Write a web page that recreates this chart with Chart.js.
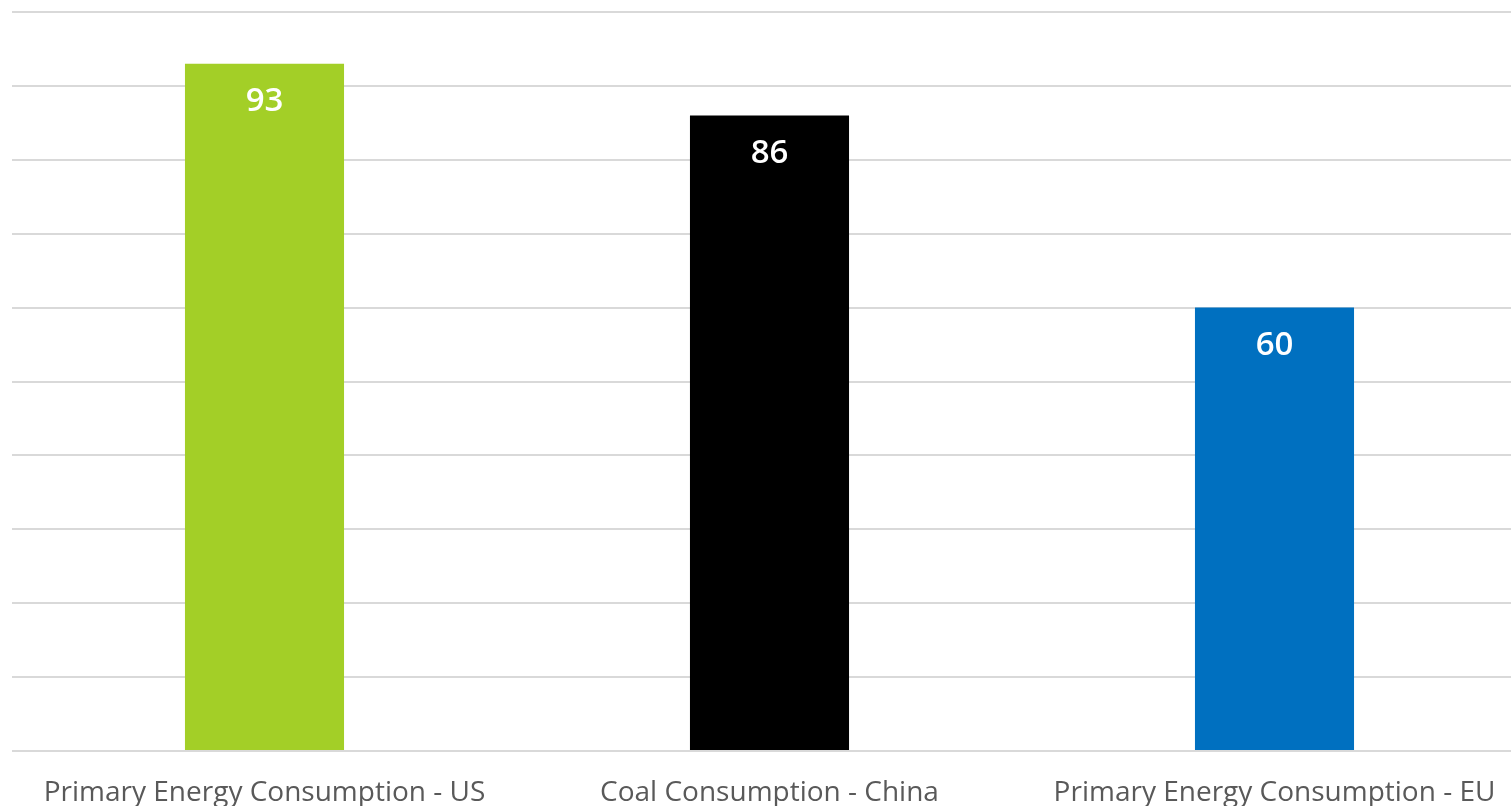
<!DOCTYPE html>
<html>
<head>
<meta charset="utf-8">
<script src="https://cdn.jsdelivr.net/npm/chart.js@4/dist/chart.umd.min.js"></script>
<style>
html,body{margin:0;padding:0;background:#fff;overflow:hidden;}
#wrap{width:1527px;height:806px;}
</style>
</head>
<body>
<div id="wrap"><canvas id="c" width="1527" height="806"></canvas></div>
<script>
const categories = ["Primary Energy Consumption - US", "Coal Consumption - China", "Primary Energy Consumption - EU"];
const values = [93, 86, 60];
const barColors = ["#a3cf27", "#000000", "#0070c0"];
const yMin = 0, yMax = 100, yStep = 10;

const valueLabels = {
  id: 'valueLabels',
  afterDatasetsDraw(chart) {
    const ctx = chart.ctx;
    const meta = chart.getDatasetMeta(0);
    ctx.save();
    ctx.fillStyle = '#ffffff';
    ctx.font = '600 33px "Open Sans"';
    ctx.textAlign = 'center';
    ctx.textBaseline = 'middle';
    meta.data.forEach((bar, i) => {
      ctx.fillText(String(values[i]), bar.x, bar.y + 38);
    });
    ctx.restore();
  }
};

new Chart(document.getElementById('c'), {
  type: 'bar',
  data: {
    labels: categories,
    datasets: [{
      data: values,
      backgroundColor: barColors,
      borderWidth: 0,
      barPercentage: 0.315,
      categoryPercentage: 1
    }]
  },
  options: {
    responsive: false,
    animation: false,
    devicePixelRatio: 1,
    layout: { padding: { left: 12, top: 12, right: 0, bottom: 0 } },
    plugins: { legend: { display: false }, tooltip: { enabled: false } },
    scales: {
      x: {
        grid: { display: false, drawTicks: false },
        border: { display: false },
        ticks: {
          color: '#595959',
          font: { family: '"Open Sans"', size: 28 },
          padding: 25,
          maxRotation: 0,
          autoSkip: false
        },
        afterFit(axis) { axis.height = 55; }
      },
      y: {
        min: yMin, max: yMax,
        ticks: { display: false, stepSize: yStep },
        grid: { color: '#d9d9d9', lineWidth: 2, drawTicks: false },
        border: { display: false },
        afterFit(axis) { axis.width = 0; }
      }
    }
  },
  plugins: [valueLabels]
});
</script>
</body>
</html>
